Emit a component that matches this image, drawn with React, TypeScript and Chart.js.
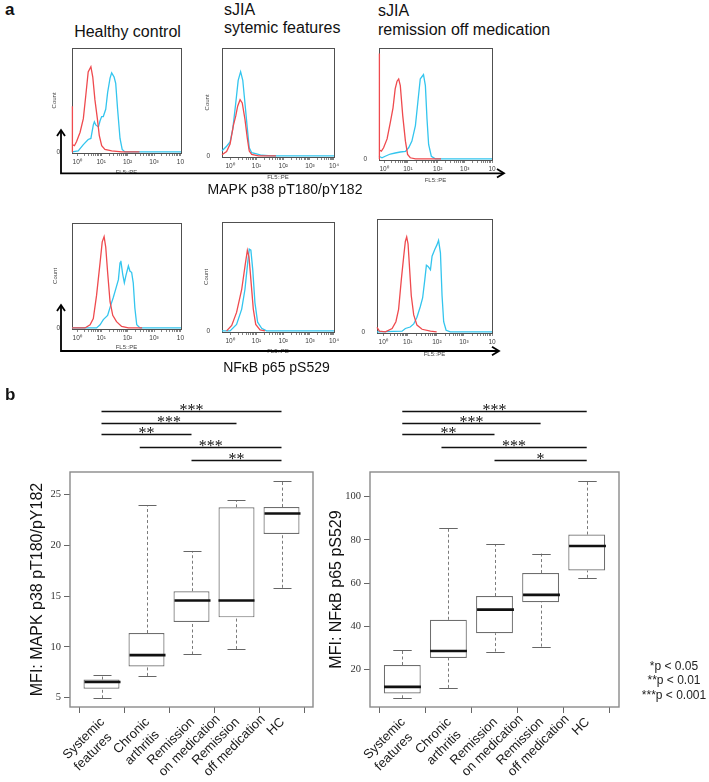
import React, { useEffect, useRef } from 'react';
import { Chart, registerables } from 'chart.js';
Chart.register(...registerables);

const SANS = '"Liberation Sans", Arial, Helvetica, sans-serif';
const SERIF = '"Liberation Serif", "Times New Roman", serif';
Chart.defaults.font.family = SANS;

// ---------------- Panel a : flow cytometry histograms ----------------
// x: display position in decades along the FL5::PE axis, y: relative count (0-100)
type Pt = [number, number];

const DECADE_LABELS = ['10⁰', '10¹', '10²', '10³', '10⁴'];
const DECADE_LABELS_CLIPPED = ['10⁰', '10¹', '10²', '10³', '10'];

const P1_TICKS = [0.19, 1.08, 2.06, 3.04, 4.02];
const P2_TICKS = [0.3, 1.28, 2.27, 3.26, 4.15];
const P3_TICKS = [0.19, 1.07, 2.18, 3.18, 4.19];
const P4_TICKS = [0.19, 1.08, 2.06, 3.04, 4.02];
const P5_TICKS = [0.3, 1.28, 2.27, 3.26, 4.15];
const P6_TICKS = [0.23, 1.14, 2.22, 3.22, 4.26];

// MAPK p38 – healthy control
const P1_RED: Pt[] = [[0, 0], [0, 44], [0.03, 7], [0.09, 6], [0.17, 10], [0.3, 19], [0.42, 32], [0.51, 54], [0.6, 77], [0.7, 82], [0.77, 72], [0.85, 50], [0.94, 32], [1.01, 16], [1.1, 6], [1.22, 2.5], [1.47, 1], [1.84, 0], [2.5, 0]];
const P1_CYAN: Pt[] = [[0, 0], [0.23, 1], [0.42, 7], [0.6, 12], [0.7, 13], [0.79, 26], [0.83, 29], [0.88, 26], [0.98, 24], [1.04, 30], [1.1, 34], [1.16, 34], [1.25, 41], [1.32, 57], [1.41, 71], [1.47, 76], [1.56, 72], [1.62, 66], [1.69, 41], [1.78, 13], [1.86, 2.5], [1.96, 0], [4.04, 0]];
// MAPK p38 – sJIA systemic features
const P2_RED: Pt[] = [[0, 1], [0.17, 4], [0.3, 11], [0.42, 28], [0.51, 37], [0.58, 46], [0.67, 52], [0.75, 49], [0.85, 34], [0.94, 16], [1.01, 4.5], [1.1, 1.5], [1.35, 0], [2.0, 0]];
const P2_CYAN: Pt[] = [[0, 4.5], [0.05, 6], [0.17, 9], [0.3, 13], [0.4, 25], [0.51, 49], [0.6, 70], [0.69, 78], [0.77, 70], [0.85, 49], [0.94, 25], [1.01, 7.5], [1.1, 3], [1.28, 2], [1.47, 0.6], [1.84, 0], [4.15, 0]];
// MAPK p38 – sJIA remission off medication
const P3_RED: Pt[] = [[0, 0], [0, 95], [0.03, 8], [0.09, 7], [0.17, 10], [0.3, 18], [0.42, 33], [0.52, 46], [0.6, 63], [0.67, 70], [0.73, 72], [0.79, 66], [0.88, 39], [0.98, 16], [1.06, 4], [1.16, 1], [1.35, 0], [2.3, 0]];
const P3_CYAN: Pt[] = [[0, 2.4], [0.11, 1], [0.23, 2.4], [0.42, 4.4], [0.6, 5.3], [0.79, 6.2], [0.98, 6.8], [1.1, 10], [1.22, 16], [1.35, 30], [1.44, 51], [1.53, 72], [1.59, 74], [1.65, 76], [1.72, 66], [1.78, 36], [1.84, 13], [1.94, 2.4], [2.09, 0], [4.19, 0]];
// NFkB p65 – healthy control
const P4_RED: Pt[] = [[0, 0], [0.48, 0], [0.67, 3], [0.79, 9], [0.91, 31], [1.04, 62], [1.12, 82], [1.19, 87], [1.25, 77], [1.32, 53], [1.41, 25], [1.51, 12], [1.65, 6], [1.84, 1.5], [2.09, 0], [2.6, 0]];
const P4_CYAN: Pt[] = [[0, 0], [0.91, 0], [1.04, 3], [1.16, 8], [1.32, 12], [1.44, 22], [1.53, 29], [1.62, 37], [1.72, 46], [1.78, 62], [1.81, 64], [1.88, 51], [1.94, 43], [2.0, 50], [2.09, 59], [2.15, 54], [2.21, 53], [2.27, 43], [2.33, 19], [2.4, 3], [2.52, 0], [4.04, 0]];
// NFkB p65 – sJIA systemic features
const P5_RED: Pt[] = [[0.17, 0], [0.36, 5], [0.54, 17], [0.73, 38], [0.85, 59], [0.94, 74], [1.0, 68], [1.07, 47], [1.16, 20], [1.25, 6], [1.41, 1], [1.59, 0]];
const P5_CYAN: Pt[] = [[0, 0], [0.3, 0], [0.54, 6], [0.73, 20], [0.85, 38], [0.95, 62], [1.01, 75], [1.07, 74], [1.14, 56], [1.22, 26], [1.32, 8], [1.47, 2.4], [1.65, 0], [4.15, 0]];
// NFkB p65 – sJIA remission off medication
const P6_RED: Pt[] = [[0, 4], [0.09, 0.6], [0.31, 0], [0.56, 3], [0.7, 9], [0.8, 20], [0.9, 46], [0.99, 67], [1.05, 80], [1.1, 84], [1.15, 78], [1.21, 55], [1.27, 32], [1.36, 15], [1.48, 6], [1.67, 2.3], [1.98, 0.6], [2.21, 0]];
const P6_CYAN: Pt[] = [[0, 0], [0.93, 0.6], [1.05, 3], [1.23, 4.3], [1.36, 7], [1.48, 13], [1.6, 22], [1.69, 30], [1.77, 46], [1.83, 59], [1.89, 58], [1.98, 55], [2.04, 67], [2.14, 73], [2.22, 77], [2.28, 81], [2.35, 70], [2.41, 32], [2.47, 9], [2.56, 1.4], [2.72, 0], [4.26, 0]];

// ---------------- Panel b : box plots ----------------
const CAT_LABELS = [['Systemic', 'features'], ['Chronic', 'arthritis'], ['Remission', 'on medication'], ['Remission', 'off medication'], ['HC']];
const CAT_POS = [1, 2, 3, 4, 5];

const MAPK_LOW = [4.94, 7.14, 9.25, 9.78, 15.81];
const MAPK_Q1 = [5.89, 8.06, 12.45, 12.9, 21.1];
const MAPK_MED = [6.55, 9.19, 14.56, 14.56, 23.12];
const MAPK_Q3 = [6.78, 11.36, 15.47, 23.72, 23.75];
const MAPK_HIGH = [7.21, 23.94, 19.43, 24.4, 26.34];
const MAPK_TICKS = [5, 10, 15, 20, 25];
const MAPK_SIG_FROM = [1, 1, 1, 1.85, 3];
const MAPK_SIG_TO = [5, 4, 3, 5, 5];
const MAPK_SIG_LABEL = ['***', '***', '**', '***', '**'];

const NFKB_LOW = [6.8, 11.6, 28.4, 30.7, 62.5];
const NFKB_Q1 = [9.0, 25.4, 36.9, 51.2, 65.9];
const NFKB_MED = [12.1, 28.7, 47.8, 54.6, 77.2];
const NFKB_Q3 = [22.2, 43.1, 54.1, 64.7, 82.5];
const NFKB_HIGH = [29.2, 85.6, 78.0, 73.7, 107.4];
const NFKB_TICKS = [20, 40, 60, 80, 100];
const NFKB_SIG_FROM = [1, 1, 1, 1.85, 3];
const NFKB_SIG_TO = [5, 4, 3, 5, 5];
const NFKB_SIG_LABEL = ['***', '***', '**', '***', '*'];

const LEGEND_LINES = ['*p < 0.05', '**p < 0.01', '***p < 0.001'];

// ---------------- layout / style ----------------
const RED = '#ef4a4e';
const CYAN = '#33c5ee';
const SIG_Y = [-61, -49.5, -38, -25.5, -12];

const HIST_PANELS = [
  { red: P1_RED, cyan: P1_CYAN, ticks: P1_TICKS, labels: DECADE_LABELS_CLIPPED, xMax: 4.04, box: { l: 72, r: 181, t: 46, b: 153 }, countX: 54.5, titleY: 172.7 },
  { red: P2_RED, cyan: P2_CYAN, ticks: P2_TICKS, labels: DECADE_LABELS, xMax: 4.15, box: { l: 222, r: 334, t: 46, b: 157 }, countX: 207, titleY: 177.3 },
  { red: P3_RED, cyan: P3_CYAN, ticks: P3_TICKS, labels: DECADE_LABELS_CLIPPED, xMax: 4.19, box: { l: 379, r: 492, t: 46, b: 160 }, countX: null, titleY: 180 },
  { red: P4_RED, cyan: P4_CYAN, ticks: P4_TICKS, labels: DECADE_LABELS_CLIPPED, xMax: 4.04, box: { l: 72, r: 181, t: 221, b: 329 }, countX: 55, titleY: 347.7 },
  { red: P5_RED, cyan: P5_CYAN, ticks: P5_TICKS, labels: DECADE_LABELS, xMax: 4.15, box: { l: 222, r: 334, t: 220, b: 332 }, countX: 206.7, titleY: 351.7 },
  { red: P6_RED, cyan: P6_CYAN, ticks: P6_TICKS, labels: DECADE_LABELS_CLIPPED, xMax: 4.26, box: { l: 377, r: 492, t: 217, b: 333 }, countX: null, titleY: 354 },
];

const BOX_SPECS = [
  { low: MAPK_LOW, q1: MAPK_Q1, med: MAPK_MED, q3: MAPK_Q3, high: MAPK_HIGH, ticks: MAPK_TICKS, title: 'MFI: MAPK p38 pT180/pY182', sigFrom: MAPK_SIG_FROM, sigTo: MAPK_SIG_TO, sigLabel: MAPK_SIG_LABEL, left: 0, width: 322, yWidth: 70, padRight: 9, titlePad: 28.4 },
  { low: NFKB_LOW, q1: NFKB_Q1, med: NFKB_MED, q3: NFKB_Q3, high: NFKB_HIGH, ticks: NFKB_TICKS, title: 'MFI: NFκB p65 pS529', sigFrom: NFKB_SIG_FROM, sigTo: NFKB_SIG_TO, sigLabel: NFKB_SIG_LABEL, left: 322, width: 318, yWidth: 48, padRight: 21, titlePad: 5.4 },
];
const BOX_TOP = 398;
const BOX_HEIGHT = 384;

function framePlugin(color: string, width: number) {
  return {
    id: 'frame',
    beforeDatasetsDraw(chart: any) {
      const { ctx, chartArea: a } = chart;
      ctx.save();
      ctx.strokeStyle = color;
      ctx.lineWidth = width;
      ctx.strokeRect(Math.round(a.left) + 0.5, Math.round(a.top) + 0.5, Math.round(a.right - a.left), Math.round(a.bottom - a.top));
      ctx.restore();
    },
  };
}

function HistChart({ p }: { p: any }) {
  const ref = useRef<HTMLCanvasElement | null>(null);
  const left = p.box.l - 27;
  const top = p.box.t - 6;
  const width = p.box.r + 7 - left;
  const height = Math.round(p.titleY + 5.5 - top);
  useEffect(() => {
    const majors: number[] = p.ticks;
    const minors: number[] = [];
    for (let d = 0; d < majors.length - 1; d++) {
      for (let k = 2; k <= 9; k++) minors.push(majors[d] + (majors[d + 1] - majors[d]) * Math.log10(k));
    }
    const all = [...majors, ...minors].sort((a, b) => a - b);
    const xAxisH = height - (p.box.b - top);
    const chart = new Chart(ref.current as HTMLCanvasElement, {
      type: 'line',
      data: {
        datasets: [
          { data: p.red.map(([x, y]: Pt) => ({ x, y })), borderColor: RED, borderWidth: 1.3, pointRadius: 0, tension: 0, fill: false, clip: 2 },
          { data: p.cyan.map(([x, y]: Pt) => ({ x, y })), borderColor: CYAN, borderWidth: 1.3, pointRadius: 0, tension: 0, fill: false, clip: 2 },
        ],
      },
      options: {
        animation: false,
        responsive: false,
        events: [],
        layout: { padding: { top: 6, right: 7, left: 0, bottom: 0 } },
        plugins: { legend: { display: false }, tooltip: { enabled: false } },
        scales: {
          x: {
            type: 'linear',
            min: 0,
            max: p.xMax,
            afterBuildTicks: (s: any) => { s.ticks = all.map((v) => ({ value: v })); },
            afterFit: (s: any) => { s.height = xAxisH; },
            ticks: {
              autoSkip: false, maxRotation: 0, minRotation: 0, padding: 2, color: '#3a3a3a', font: { size: 6.5 },
              callback: (v: any) => {
                const i = majors.findIndex((m) => Math.abs(m - v) < 1e-9);
                return i >= 0 ? p.labels[i] : '';
              },
            },
            grid: { drawOnChartArea: false, tickLength: 3, color: '#666', lineWidth: 0.8 },
            border: { display: false },
            title: { display: true, text: 'FL5::PE', color: '#444', font: { size: 6 }, padding: { top: 0, bottom: 1.9 } },
          },
          y: {
            type: 'linear',
            min: -1,
            max: 100,
            afterBuildTicks: (s: any) => { s.ticks = [{ value: 0 }]; },
            afterFit: (s: any) => { s.width = 27; },
            ticks: { padding: 4, color: '#3a3a3a', font: { size: 6.5 } },
            grid: { display: false },
            border: { display: false },
            title: { display: p.countX != null, text: 'Count', color: '#444', font: { size: 6 }, padding: { top: (p.countX ?? left) - left - 3.6, bottom: 0 } },
          },
        },
      } as any,
      plugins: [framePlugin('#505050', 1)],
    });
    return () => chart.destroy();
  }, []);
  return <canvas ref={ref} width={width} height={height} style={{ position: 'absolute', left, top, width, height }} />;
}

function boxPlugin(spec: any) {
  return {
    id: 'boxExtras',
    afterDatasetsDraw(chart: any) {
      const { ctx, chartArea: a, scales } = chart;
      const x = scales.x;
      const y = scales.y;
      const half = x.getPixelForValue(1.4) - x.getPixelForValue(1);
      const seg = (x1: number, y1: number, x2: number, y2: number) => {
        ctx.beginPath();
        ctx.moveTo(x1, y1);
        ctx.lineTo(x2, y2);
        ctx.stroke();
      };
      ctx.save();
      spec.low.forEach((lo: number, i: number) => {
        const cx = Math.round(x.getPixelForValue(CAT_POS[i])) + 0.5;
        const yLo = y.getPixelForValue(lo);
        const yHi = y.getPixelForValue(spec.high[i]);
        const yQ1 = y.getPixelForValue(spec.q1[i]);
        const yQ3 = y.getPixelForValue(spec.q3[i]);
        const yMed = y.getPixelForValue(spec.med[i]);
        ctx.strokeStyle = '#7a7a7a';
        ctx.lineWidth = 1;
        ctx.setLineDash([3, 2.5]);
        seg(cx, yLo, cx, yQ1);
        seg(cx, yQ3, cx, yHi);
        ctx.setLineDash([]);
        ctx.strokeStyle = '#666';
        seg(cx - half / 2, Math.round(yLo) + 0.5, cx + half / 2, Math.round(yLo) + 0.5);
        seg(cx - half / 2, Math.round(yHi) + 0.5, cx + half / 2, Math.round(yHi) + 0.5);
        ctx.strokeStyle = '#111';
        ctx.lineWidth = 2.6;
        seg(cx - half, yMed, cx + half, yMed);
      });
      ctx.strokeStyle = '#8a8a8a';
      ctx.lineWidth = 1.4;
      ctx.strokeRect(a.left, a.top, a.right - a.left, a.bottom - a.top);

      // significance bars
      ctx.strokeStyle = '#111';
      ctx.fillStyle = '#111';
      ctx.lineWidth = 1.3;
      ctx.font = `16px ${SERIF}`;
      ctx.textAlign = 'center';
      ctx.textBaseline = 'alphabetic';
      spec.sigFrom.forEach((f: number, k: number) => {
        const x1 = x.getPixelForValue(f);
        const x2 = x.getPixelForValue(spec.sigTo[k]);
        const ly = Math.round(a.top + SIG_Y[k]) + 0.5;
        seg(x1, ly, x2, ly);
        ctx.fillText(spec.sigLabel[k], (x1 + x2) / 2, ly + 3);
      });

      // category labels, rotated 45 degrees, lines left-aligned
      ctx.font = `13px ${SANS}`;
      ctx.fillStyle = '#1a1a1a';
      ctx.textAlign = 'left';
      ctx.textBaseline = 'middle';
      CAT_LABELS.forEach((lines, i) => {
        const cx = x.getPixelForValue(CAT_POS[i]);
        const w1 = ctx.measureText(lines[0]).width;
        ctx.save();
        ctx.translate(cx + 1, a.bottom + 13);
        ctx.rotate(-Math.PI / 4);
        lines.forEach((ln, k) => ctx.fillText(ln, -w1, k * 16));
        ctx.restore();
      });
      ctx.restore();
    },
  };
}

function BoxChart({ spec }: { spec: any }) {
  const ref = useRef<HTMLCanvasElement | null>(null);
  useEffect(() => {
    const lo = Math.min(...spec.low);
    const hi = Math.max(...spec.high);
    const pad = (hi - lo) * 0.04;
    const chart = new Chart(ref.current as HTMLCanvasElement, {
      type: 'bar',
      data: {
        labels: CAT_LABELS.map((l) => l.join(' ')),
        datasets: [
          {
            data: spec.q1.map((q: number, i: number) => ({ x: CAT_POS[i], y: [q, spec.q3[i]] })),
            backgroundColor: '#ffffff',
            borderColor: '#6e6e6e',
            borderWidth: 1.2,
            borderSkipped: false,
            barPercentage: 0.8,
            categoryPercentage: 1,
          },
        ],
      },
      options: {
        animation: false,
        responsive: false,
        events: [],
        layout: { padding: { top: 74, right: spec.padRight, left: 0, bottom: 0 } },
        plugins: { legend: { display: false }, tooltip: { enabled: false } },
        scales: {
          x: {
            type: 'linear',
            offset: false,
            min: 0.3,
            max: 5.7,
            afterBuildTicks: (s: any) => { s.ticks = CAT_POS.map((v) => ({ value: v })); },
            afterFit: (s: any) => { s.height = 75; },
            ticks: { display: false, autoSkip: false },
            grid: { drawOnChartArea: false, tickLength: 6, color: '#666' },
            border: { display: false },
          },
          y: {
            type: 'linear',
            min: lo - pad,
            max: hi + pad,
            afterBuildTicks: (s: any) => { s.ticks = spec.ticks.map((v: number) => ({ value: v })); },
            afterFit: (s: any) => { s.width = spec.yWidth; },
            ticks: { padding: 3, color: '#333', font: { family: SERIF, size: 10.5 } },
            grid: { drawOnChartArea: false, tickLength: 6, color: '#666' },
            border: { display: false },
            title: { display: true, text: spec.title, color: '#111', font: { family: SANS, size: 16 }, padding: { top: spec.titlePad, bottom: 0 } },
          },
        },
      } as any,
      plugins: [boxPlugin(spec)],
    });
    return () => chart.destroy();
  }, []);
  return <canvas ref={ref} width={spec.width} height={BOX_HEIGHT} style={{ position: 'absolute', left: spec.left, top: BOX_TOP, width: spec.width, height: BOX_HEIGHT }} />;
}

const txt = (extra: any): any => ({ position: 'absolute', fontFamily: SANS, color: '#111', whiteSpace: 'nowrap', ...extra });

export default function App() {
  return (
    <div style={{ position: 'absolute', left: 0, top: 0, width: 709, height: 782, background: '#fff', overflow: 'hidden' }}>
      <div style={txt({ left: 5, top: 0, fontSize: 17, fontWeight: 'bold', lineHeight: '20px' })}>a</div>
      <div style={txt({ left: 127.5, top: 22.7, fontSize: 16, lineHeight: '18px', transform: 'translateX(-50%)' })}>Healthy control</div>
      <div style={txt({ left: 224, top: 1, fontSize: 16, lineHeight: '18.3px' })}>sJIA<br />sytemic features</div>
      <div style={txt({ left: 378, top: 1, fontSize: 16, lineHeight: '19.3px' })}>sJIA<br />remission off medication</div>

      {HIST_PANELS.map((p, i) => <HistChart key={i} p={p} />)}

      <svg width={709} height={782} style={{ position: 'absolute', left: 0, top: 0, pointerEvents: 'none' }}>
        <g stroke="#000" strokeWidth={1.8} fill="none">
          <polyline points="61,131 61,173.3 503,173.3" />
          <polyline points="57,136 61,130 65,136" />
          <polyline points="497,169 504,173.3 497,177.6" />
          <polyline points="61,306 61,351 498,351" />
          <polyline points="57,311 61,305 65,311" />
          <polyline points="492,346.7 499,351 492,355.3" />
        </g>
      </svg>
      <div style={txt({ left: 285, top: 180, fontSize: 14, lineHeight: '18px', transform: 'translateX(-50%)' })}>MAPK p38 pT180/pY182</div>
      <div style={txt({ left: 276.5, top: 358, fontSize: 14, lineHeight: '18px', transform: 'translateX(-50%)' })}>NFκB p65 pS529</div>

      <div style={txt({ left: 5, top: 385, fontSize: 17, fontWeight: 'bold', lineHeight: '20px' })}>b</div>
      {BOX_SPECS.map((s, i) => <BoxChart key={i} spec={s} />)}

      {LEGEND_LINES.map((t, i) => (
        <div key={i} style={txt({ left: 674, top: [658, 671.5, 687][i], fontSize: 12, lineHeight: '16px', transform: 'translateX(-50%)', color: '#222' })}>{t}</div>
      ))}
    </div>
  );
}
